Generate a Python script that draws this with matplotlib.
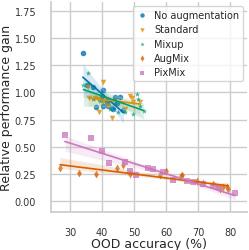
import matplotlib
matplotlib.use("Agg")
import matplotlib.pyplot as plt
import seaborn as sns
import numpy as np

sns.set_theme(style="whitegrid", palette="colorblind")
plt.rcParams["font.family"] = ["DejaVu Sans"]

# (OOD accuracy %, relative performance gain) per training method
noaug_x = [34.0, 35.2, 37.3, 40.4, 39.9, 41.5, 42.0, 43.0, 44.1, 45.6, 46.7, 44.6, 43.5, 40.4, 38.1]
noaug_y = [1.36, 1.07, 1.05, 1.02, 0.97, 0.91, 0.88, 0.86, 0.96, 0.96, 0.84, 0.90, 0.85, 0.88, 0.87]
std_x = [40.2, 35.7, 36.0, 37.8, 38.9, 39.0, 40.4, 41.9, 43.0, 47.2, 48.8, 49.3, 49.8, 51.9]
std_y = [1.10, 1.05, 0.95, 0.95, 0.94, 0.82, 0.91, 0.88, 0.77, 0.85, 0.97, 0.95, 0.91, 0.91]
mix_x = [35.7, 34.2, 37.3, 42.5, 45.1, 47.2, 49.8, 50.8, 51.4, 51.9, 53.0, 39.5, 44.0]
mix_y = [1.18, 1.07, 0.94, 0.85, 0.82, 0.82, 0.80, 0.99, 0.94, 0.88, 0.83, 0.92, 0.90]
aug_x = [26.9, 32.8, 38.1, 44.8, 46.5, 48.8, 60.0, 64.9, 64.7, 58.1, 69.6, 71.7, 74.8, 75.8, 76.9, 77.9, 79.0, 79.5]
aug_y = [0.31, 0.26, 0.25, 0.31, 0.33, 0.25, 0.28, 0.24, 0.23, 0.24, 0.19, 0.17, 0.16, 0.13, 0.11, 0.13, 0.13, 0.11]
pix_x = [28.4, 36.5, 39.9, 42.3, 47.2, 48.8, 50.7, 54.5, 56.0, 59.2, 62.3, 66.5, 68.5, 71.7, 74.8, 76.4, 81.6]
pix_y = [0.61, 0.58, 0.46, 0.35, 0.36, 0.28, 0.24, 0.31, 0.30, 0.27, 0.20, 0.19, 0.18, 0.16, 0.14, 0.13, 0.08]

methods = ["No augmentation", "Standard", "Mixup", "AugMix", "PixMix"]
xs = [noaug_x, std_x, mix_x, aug_x, pix_x]
ys = [noaug_y, std_y, mix_y, aug_y, pix_y]
colors = ["#0173b2", "#de8f05", "#029e73", "#d55e00", "#cc78bc"]
markers = ["o", "v", "*", "d", "s"]

fig, ax = plt.subplots(figsize=(2.49, 2.51), dpi=100)
for name, x, y, c, m in zip(methods, xs, ys, colors, markers):
    sns.regplot(x=np.array(x), y=np.array(y), ax=ax, color=c, marker=m, label=name,
                scatter_kws={"s": 16, "linewidths": 0}, line_kws={"lw": 1.2}, seed=0)

ax.set_xlim(24, 85.3)
ax.set_ylim(-0.098, 1.83)
ax.set_xticks([30, 40, 50, 60, 70, 80])
ax.set_yticks([0.0, 0.25, 0.5, 0.75, 1.0, 1.25, 1.5, 1.75])
ax.set_yticklabels(["0.00", "0.25", "0.50", "0.75", "1.00", "1.25", "1.50", "1.75"])
ax.tick_params(labelsize=7, pad=4.5, colors="#333333")
ax.set_xlabel("OOD accuracy (%)", fontsize=9, labelpad=0)
ax.set_ylabel("Relative performance gain", fontsize=9, labelpad=1)
sns.despine(ax=ax)
ax.legend(loc="upper right", fontsize=7, markerscale=0.8, handletextpad=0.6,
          borderaxespad=0.4, labelspacing=0.45, handlelength=1.2)

fig.subplots_adjust(left=0.204, right=0.992, top=0.988, bottom=0.151)
fig.savefig("out.png", dpi=100)
